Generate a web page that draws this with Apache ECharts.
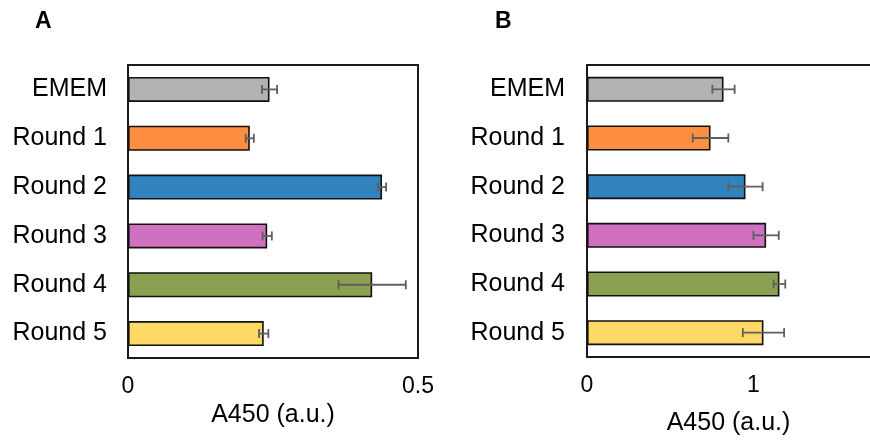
<!DOCTYPE html>
<html>
<head>
<meta charset="utf-8">
<script src="https://cdn.jsdelivr.net/npm/echarts@6/dist/echarts.min.js"></script>
<style>
  html, body { margin: 0; padding: 0; background: #fff; }
  #chart { width: 870px; height: 441px; }
</style>
</head>
<body>
<div id="chart"></div>
<script>
// Groups shown on the category axis (top to bottom)
const categories = ['EMEM', 'Round 1', 'Round 2', 'Round 3', 'Round 4', 'Round 5'];

// Panel A: mean absorbance and error
const valuesA = [0.244, 0.210, 0.438, 0.240, 0.421, 0.234];
const errorsA = [0.013, 0.007, 0.007, 0.008, 0.058, 0.008];

// Panel B: mean absorbance and error
const valuesB = [0.82, 0.742, 0.952, 1.076, 1.156, 1.06];
const errorsB = [0.067, 0.107, 0.103, 0.076, 0.035, 0.124];

// Tick labels on the value axes
const ticksA = [0, 0.5];
const ticksB = [0, 1];

const barColors = ['#b2b2b2', '#ff8f40', '#3182bd', '#d070c0', '#8ba050', '#ffd966'];
const FONT = 'Liberation Sans, Arial, sans-serif';
const FRAME = '#1a1a1a';

const chart = echarts.init(document.getElementById('chart'), null, { renderer: 'canvas' });

function barSeries(values, idx) {
  return {
    type: 'bar',
    xAxisIndex: idx,
    yAxisIndex: idx,
    barWidth: 25,
    silent: true,
    z: 3,
    data: values.map((v, i) => ({
      value: v,
      itemStyle: { color: barColors[i], borderColor: '#111', borderWidth: 1.6 }
    }))
  };
}

function errorSeries(values, errors, idx) {
  return {
    type: 'custom',
    xAxisIndex: idx,
    yAxisIndex: idx,
    silent: true,
    z: 5,
    encode: { x: 0, y: 1 },
    data: values.map((v, i) => [v, i, errors[i]]),
    renderItem: function (params, api) {
      const mean = api.value(0);
      const cat = api.value(1);
      const err = api.value(2);
      const lo = api.coord([mean - err, cat]);
      const hi = api.coord([mean + err, cat]);
      const cap = 4.5;
      const style = { stroke: '#5f5f5f', lineWidth: 1.8, fill: null };
      return {
        type: 'group',
        children: [
          { type: 'line', shape: { x1: lo[0], y1: lo[1], x2: hi[0], y2: hi[1] }, style: style },
          { type: 'line', shape: { x1: lo[0], y1: lo[1] - cap, x2: lo[0], y2: lo[1] + cap }, style: style },
          { type: 'line', shape: { x1: hi[0], y1: hi[1] - cap, x2: hi[0], y2: hi[1] + cap }, style: style }
        ]
      };
    }
  };
}

function valueAxis(idx, max, interval, ticks, nameGap, showLine) {
  return {
    type: 'value',
    gridIndex: idx,
    min: 0,
    max: max,
    interval: interval,
    name: 'A450 (a.u.)',
    nameLocation: 'middle',
    nameGap: nameGap,
    nameTextStyle: { fontFamily: FONT, fontSize: 25, color: '#000' },
    axisLine: { show: showLine, lineStyle: { color: FRAME, width: 2 } },
    axisTick: { show: false },
    splitLine: { show: false },
    axisLabel: {
      fontFamily: FONT, fontSize: 23, color: '#000', margin: 17,
      showMaxLabel: ticks.indexOf(max) >= 0,
      formatter: v => (ticks.indexOf(v) >= 0 ? String(v) : '')
    }
  };
}

function categoryAxis(idx, margin, showLine) {
  return {
    type: 'category',
    gridIndex: idx,
    data: categories,
    inverse: true,
    axisLine: { show: showLine, lineStyle: { color: FRAME, width: 2 } },
    axisTick: { show: false },
    splitLine: { show: false },
    axisLabel: { fontFamily: FONT, fontSize: 25, color: '#000', margin: margin }
  };
}

chart.setOption({
  backgroundColor: '#fff',
  animation: false,
  title: [
    { text: 'A', left: 30, top: 5, textStyle: { fontFamily: FONT, fontSize: 23, fontWeight: 'bold', color: '#000' } },
    { text: 'B', left: 490, top: 5, textStyle: { fontFamily: FONT, fontSize: 23, fontWeight: 'bold', color: '#000' } }
  ],
  grid: [
    { left: 128, top: 65, width: 290, height: 293, show: true, borderColor: FRAME, borderWidth: 2, backgroundColor: 'transparent' },
    // panel B runs off the right edge, so only its left, top and bottom edges are drawn
    { left: 587, top: 65, right: 0, height: 293, show: false }
  ],
  xAxis: [
    valueAxis(0, 0.5, 0.5, ticksA, 42, false),
    valueAxis(1, 1.7, 1, ticksB, 54, true),
    {
      type: 'value', gridIndex: 1, position: 'top', min: 0, max: 1.7,
      axisLine: { show: true, lineStyle: { color: FRAME, width: 2 } },
      axisTick: { show: false }, axisLabel: { show: false }, splitLine: { show: false }
    }
  ],
  yAxis: [
    categoryAxis(0, 21, false),
    categoryAxis(1, 22, true)
  ],
  series: [
    barSeries(valuesA, 0),
    errorSeries(valuesA, errorsA, 0),
    barSeries(valuesB, 1),
    errorSeries(valuesB, errorsB, 1)
  ]
});
</script>
</body>
</html>
